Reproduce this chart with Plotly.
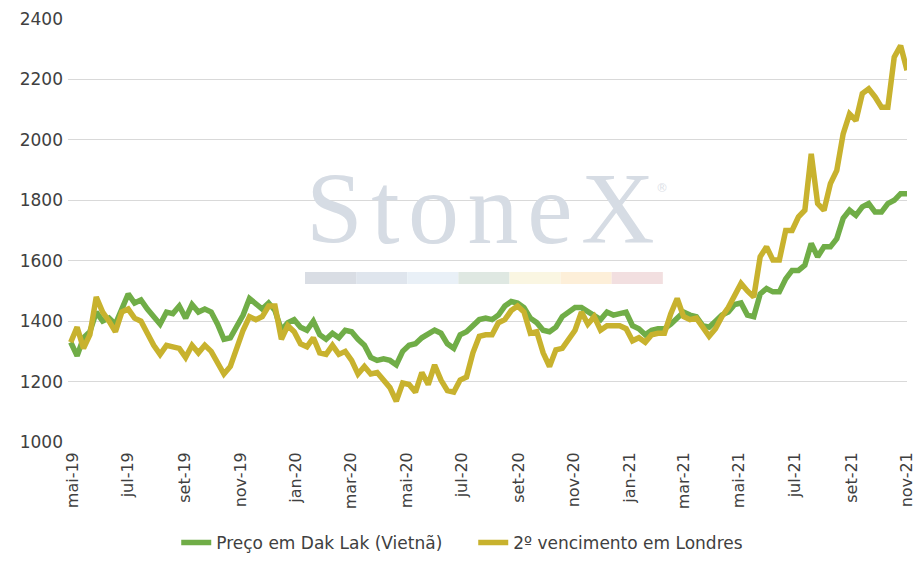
import plotly.graph_objects as go
import pandas as pd

# Preço em Dak Lak (Vietnã), semanal
dak_lak = [1330, 1285, 1345, 1365, 1430, 1400, 1410, 1390, 1440, 1490, 1460, 1470, 1440, 1415,
           1390, 1430, 1425, 1450, 1410, 1455, 1430, 1440, 1430, 1390, 1340, 1345, 1385,
           1420, 1475, 1455, 1440, 1460, 1435, 1370, 1395, 1405, 1380, 1370, 1400, 1355,
           1340, 1360, 1345, 1370, 1365, 1340, 1320, 1280, 1270, 1275, 1270, 1255, 1300, 1320,
           1325, 1345, 1355, 1370, 1360, 1325, 1310, 1355, 1365, 1385, 1405, 1410, 1405,
           1420, 1450, 1465, 1460, 1445, 1410, 1395, 1370, 1365, 1380, 1415, 1430, 1445,
           1445, 1430, 1420, 1405, 1430, 1420, 1425, 1430, 1385, 1375, 1355, 1370, 1375,
           1375, 1390, 1410, 1430, 1420, 1415, 1385, 1380, 1400, 1420, 1430, 1455, 1460, 1420,
           1415, 1490, 1508, 1497, 1497, 1540, 1568, 1568, 1585, 1657, 1613, 1646, 1646,
           1673, 1740, 1767, 1750, 1778, 1789, 1761, 1761, 1789, 1800, 1822, 1822]

# 2º vencimento em Londres, semanal
londres = [1330, 1380, 1310, 1355, 1480, 1430, 1400, 1365, 1430, 1440, 1410, 1400, 1360, 1320,
           1290, 1320, 1315, 1310, 1280, 1320, 1295, 1320, 1300, 1260, 1225, 1250, 1310,
           1370, 1415, 1405, 1415, 1450, 1450, 1340, 1385, 1365, 1325, 1315, 1345, 1295,
           1290, 1320, 1290, 1300, 1270, 1225, 1250, 1225, 1230, 1205, 1180, 1135, 1195, 1190,
           1165, 1230, 1190, 1255, 1205, 1170, 1165, 1205, 1215, 1295, 1350, 1355, 1355,
           1395, 1405, 1435, 1450, 1430, 1360, 1365, 1295, 1250, 1305, 1310, 1340, 1370,
           1430, 1390, 1415, 1370, 1385, 1385, 1385, 1375, 1335, 1345, 1330, 1355, 1360,
           1360, 1425, 1475, 1415, 1405, 1410, 1380, 1350, 1375, 1415, 1445, 1490, 1525, 1500,
           1480, 1613, 1646, 1602, 1602, 1700, 1700, 1745, 1767, 1954, 1789, 1767, 1855,
           1899, 2020, 2086, 2064, 2153, 2169, 2142, 2108, 2108, 2274, 2312, 2230]

datas = pd.date_range("2019-04-29", periods=len(dak_lak), freq="7D")

# Rótulos do eixo x
tick_datas = pd.date_range("2019-05-01", "2021-11-01", freq="2MS")
tick_textos = ["mai-19", "jul-19", "set-19", "nov-19", "jan-20", "mar-20", "mai-20", "jul-20",
               "set-20", "nov-20", "jan-21", "mar-21", "mai-21", "jul-21", "set-21", "nov-21"]

# Cores da faixa da marca d'água
faixa_cores = ["#d9dde4", "#dfe5ed", "#e9f0f7", "#dfe8e2", "#faf6e2", "#fdefd9", "#f2dfe0"]

fig = go.Figure()
fig.add_trace(go.Scatter(x=datas, y=dak_lak, mode="lines", name="Preço em Dak Lak (Vietnã)",
                         line=dict(color="#70AD47", width=5.5)))
fig.add_trace(go.Scatter(x=datas, y=londres, mode="lines", name="2º vencimento em Londres",
                         line=dict(color="#C8B22E", width=5.5)))

# Marca d'água StoneX (letras um pouco espaçadas)
marca = "\u200a".join("StoneX")
fig.add_annotation(xref="paper", yref="paper", x=0.492, y=0.553, text=marca,
                   showarrow=False, font=dict(family="Liberation Serif", size=102, color="#d6dce4"))
fig.add_annotation(xref="paper", yref="paper", x=0.7175, y=0.6, text="®",
                   showarrow=False, font=dict(family="DejaVu Sans", size=12, color="#dde1e7"))
seg = (0.709 - 0.2825) / len(faixa_cores)
for i, cor in enumerate(faixa_cores):
    fig.add_shape(type="rect", xref="paper", yref="paper", layer="below",
                  x0=0.2825 + i * seg, x1=0.2825 + (i + 1) * seg, y0=0.3735, y1=0.402,
                  fillcolor=cor, line=dict(width=0))

# a página tem 8px de margem, por isso 913x552 (o rótulo nov-21 cabe à direita)
fig.update_layout(
    width=913, height=552,
    margin=dict(l=60, r=14, t=11, b=118),
    plot_bgcolor="white", paper_bgcolor="white",
    font=dict(family="DejaVu Sans", color="#404040"),
    legend=dict(orientation="h", x=0.483, xanchor="center", yref="container", y=0.031,
                yanchor="middle", entrywidth=252, entrywidthmode="pixels",
                font=dict(size=17, color="#404040")),
)
fig.update_xaxes(range=["2019-04-26", "2021-11-01"], tickvals=tick_datas, ticktext=tick_textos,
                 tickangle=-90, tickfont=dict(size=16), showgrid=False, showline=False,
                 ticks="", ticklabelstandoff=6, automargin=False, ticklabeloverflow="allow")
fig.update_yaxes(range=[1000, 2400], dtick=200, tickfont=dict(size=17), gridcolor="#d9d9d9",
                 zeroline=False, showline=False, ticks="", ticklabelstandoff=4, automargin=False)

fig.write_html("out.html")
